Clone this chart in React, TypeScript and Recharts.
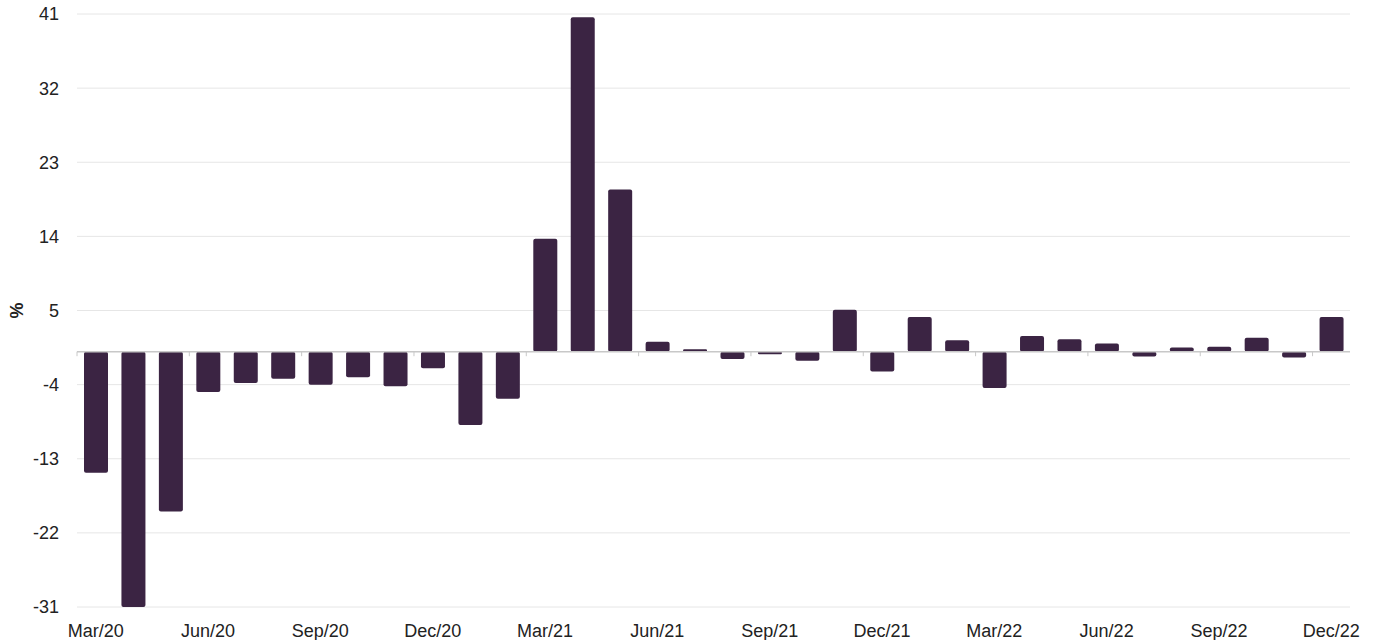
import React from "react";
import {
  BarChart,
  Bar,
  XAxis,
  YAxis,
  CartesianGrid,
  ReferenceLine,
} from "recharts";

// monthly change, %
const months = [
  "Mar/20", "Apr/20", "May/20", "Jun/20", "Jul/20", "Aug/20", "Sep/20", "Oct/20",
  "Nov/20", "Dec/20", "Jan/21", "Feb/21", "Mar/21", "Apr/21", "May/21", "Jun/21",
  "Jul/21", "Aug/21", "Sep/21", "Oct/21", "Nov/21", "Dec/21", "Jan/22", "Feb/22",
  "Mar/22", "Apr/22", "May/22", "Jun/22", "Jul/22", "Aug/22", "Sep/22", "Oct/22",
  "Nov/22", "Dec/22",
];

const changes = [
  -14.7, -31, -19.4, -4.9, -3.8, -3.3, -4.0, -3.1,
  -4.2, -2.0, -8.9, -5.7, 13.7, 40.6, 19.7, 1.2,
  0.3, -0.9, -0.3, -1.1, 5.1, -2.4, 4.2, 1.4,
  -4.4, 1.9, 1.5, 1.0, -0.6, 0.5, 0.6, 1.7,
  -0.7, 4.2,
];

const yTicks = [41, 32, 23, 14, 5, -4, -13, -22, -31];

const data = months.map((m, i) => ({ month: m, value: changes[i] }));

// quarter marks sit on the zero line at the start of every third month
const quarterStarts = months.filter((_, i) => i % 3 === 0);

const FONT = "'Liberation Sans', Arial, sans-serif";

export default function App() {
  return (
    <div style={{ width: 1379, height: 640 }}>
      <style>{`body{margin:0}`}</style>
      <BarChart
        width={1379}
        height={640}
        data={data}
        margin={{ top: 14, right: 29, left: 0, bottom: 0 }}
      >
        <CartesianGrid vertical={false} stroke="#e6e6e6" />
        <XAxis
          dataKey="month"
          interval={2}
          height={33}
          axisLine={false}
          tickLine={false}
          tickMargin={11}
          tick={{ fontSize: 18, fill: "#222", fontFamily: FONT }}
        />
        <YAxis
          width={77}
          domain={[-31, 41]}
          ticks={yTicks}
          interval={0}
          axisLine={false}
          tickLine={false}
          tickMargin={12}
          tick={{ fontSize: 18, fill: "#222", fontFamily: FONT }}
          label={{
            value: "%",
            angle: -90,
            position: "center",
            dx: -22,
            style: { fontSize: 18, fontWeight: "bold", fill: "#222", fontFamily: FONT },
          }}
        />
        <Bar
          dataKey="value"
          fill="#3b2443"
          barSize={24}
          radius={2}
          isAnimationActive={false}
        />
        <ReferenceLine y={0} stroke="#c8c8c8" strokeWidth={1.5} />
        {quarterStarts.map((m) => (
          <ReferenceLine
            key={m}
            position="start"
            segment={[
              { x: m, y: 0 },
              { x: m, y: -0.55 },
            ]}
            stroke="#c8c8c8"
            strokeWidth={1}
          />
        ))}
      </BarChart>
    </div>
  );
}
